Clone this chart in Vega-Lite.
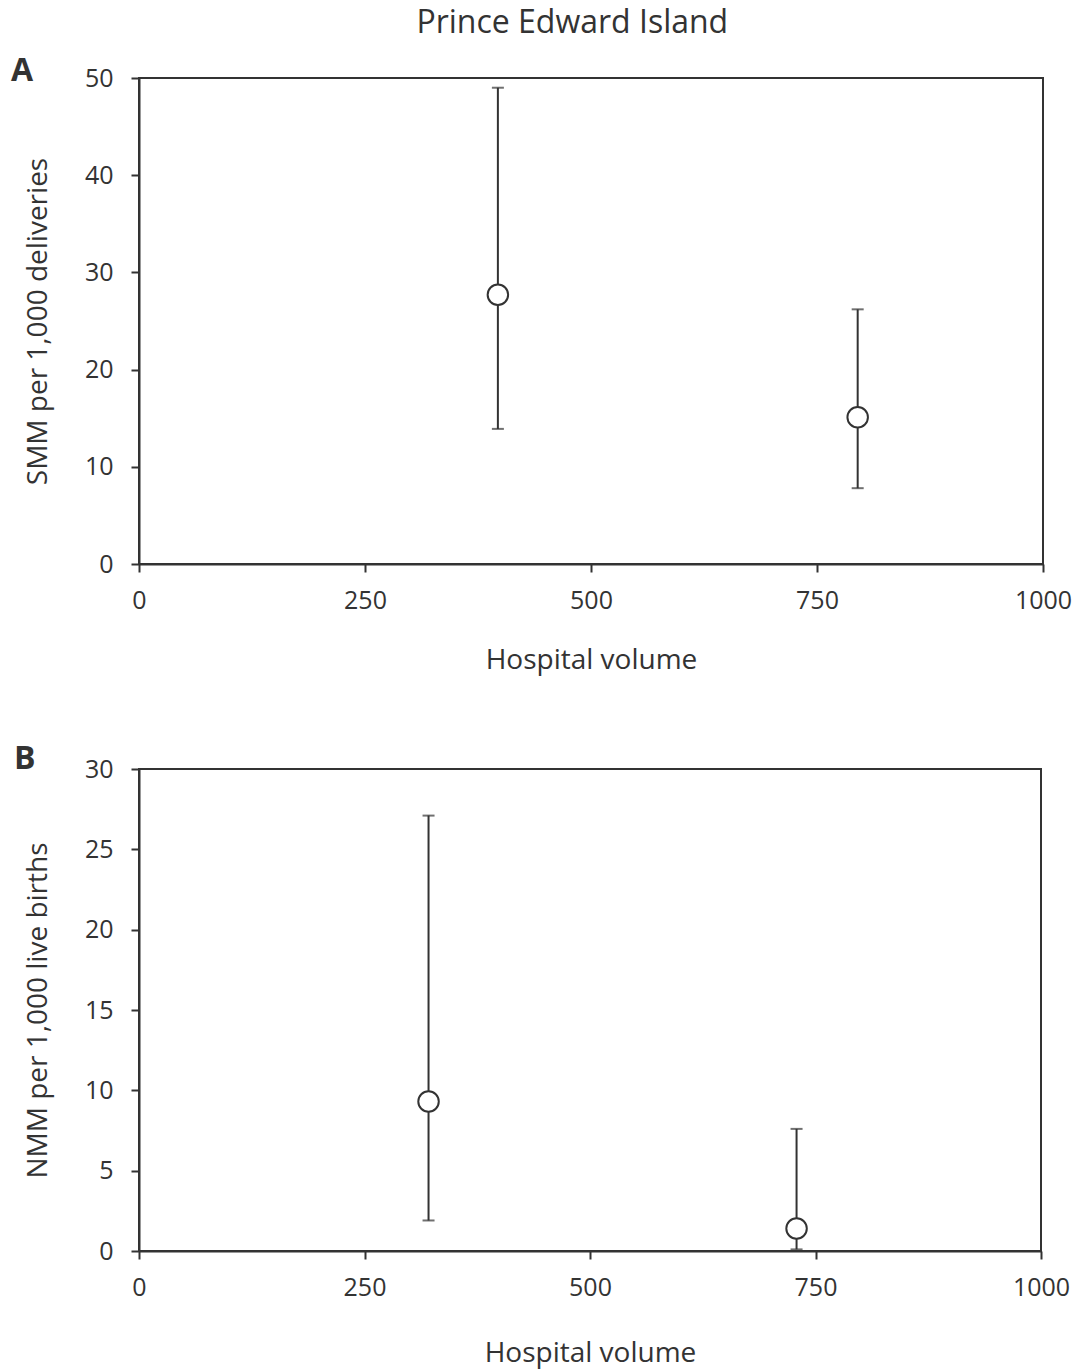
{
  "$schema": "https://vega.github.io/schema/vega-lite/v6.json",
  "padding": {"left": 10, "top": 7, "right": 5, "bottom": 2},
  "background": "white",
  "config": {
    "font": "Open Sans",
    "view": {"stroke": "#333333", "strokeWidth": 2},
    "axis": {
      "domainColor": "#333333", "domainWidth": 2,
      "tickColor": "#333333", "tickWidth": 2, "tickSize": 8,
      "grid": false, "labelFlush": false,
      "labelFontSize": 25, "titleFontSize": 28,
      "labelColor": "#333333", "titleColor": "#333333",
      "titleFontWeight": "normal", "labelFont": "Open Sans", "titleFont": "Open Sans"
    },
    "axisY": {"labelPadding": 18, "titlePadding": 32},
    "axisX": {"labelPadding": 16, "titlePadding": 33, "format": "d"}
  },
  "title": {"text": "Prince Edward Island", "fontSize": 32, "fontWeight": "normal", "color": "#333333", "anchor": "middle", "offset": 14, "dx": 31},
  "datasets": {
    "a": [
      {"volume": 397, "rate": 27.7, "lo": 13.9, "hi": 49.0},
      {"volume": 795, "rate": 15.1, "lo": 7.8, "hi": 26.2}
    ],
    "b": [
      {"volume": 321, "rate": 9.3, "lo": 1.9, "hi": 27.1},
      {"volume": 729, "rate": 1.4, "lo": 0.1, "hi": 7.6}
    ]
  },
  "spacing": 67,
  "vconcat": [
    {
      "width": 904, "height": 486,
      "title": {"text": "A", "anchor": "start", "frame": "group", "dx": -128, "dy": 22, "offset": 0, "fontSize": 32, "fontWeight": "bold", "color": "#333333"},
      "data": {"name": "a"},
      "layer": [
        {"mark": {"type": "rule", "color": "#333333", "strokeWidth": 2},
         "encoding": {
           "x": {"field": "volume", "type": "quantitative", "scale": {"domain": [0, 1000], "nice": false}, "axis": {"values": [0, 250, 500, 750, 1000], "title": "Hospital volume"}},
           "y": {"field": "lo", "type": "quantitative", "scale": {"domain": [0, 50], "nice": false}, "axis": {"values": [0, 10, 20, 30, 40, 50], "title": "SMM per 1,000 deliveries"}},
           "y2": {"field": "hi"}
         }},
        {"mark": {"type": "tick", "orient": "horizontal", "color": "#333333", "size": 12, "thickness": 2},
         "encoding": {"x": {"field": "volume", "type": "quantitative"}, "y": {"field": "lo", "type": "quantitative"}}},
        {"mark": {"type": "tick", "orient": "horizontal", "color": "#333333", "size": 12, "thickness": 2},
         "encoding": {"x": {"field": "volume", "type": "quantitative"}, "y": {"field": "hi", "type": "quantitative"}}},
        {"mark": {"type": "point", "shape": "circle", "filled": true, "fill": "white", "stroke": "#333333", "strokeWidth": 2, "size": 420, "opacity": 1},
         "encoding": {"x": {"field": "volume", "type": "quantitative"}, "y": {"field": "rate", "type": "quantitative"}}}
      ]
    },
    {
      "width": 902, "height": 482,
      "title": {"text": "B", "anchor": "start", "frame": "group", "dx": -125, "dy": 19, "offset": 0, "fontSize": 32, "fontWeight": "bold", "color": "#333333"},
      "data": {"name": "b"},
      "layer": [
        {"mark": {"type": "rule", "color": "#333333", "strokeWidth": 2},
         "encoding": {
           "x": {"field": "volume", "type": "quantitative", "scale": {"domain": [0, 1000], "nice": false}, "axis": {"values": [0, 250, 500, 750, 1000], "title": "Hospital volume", "titlePadding": 39}},
           "y": {"field": "lo", "type": "quantitative", "scale": {"domain": [0, 30], "nice": false}, "axis": {"values": [0, 5, 10, 15, 20, 25, 30], "title": "NMM per 1,000 live births"}},
           "y2": {"field": "hi"}
         }},
        {"mark": {"type": "tick", "orient": "horizontal", "color": "#333333", "size": 12, "thickness": 2},
         "encoding": {"x": {"field": "volume", "type": "quantitative"}, "y": {"field": "lo", "type": "quantitative"}}},
        {"mark": {"type": "tick", "orient": "horizontal", "color": "#333333", "size": 12, "thickness": 2},
         "encoding": {"x": {"field": "volume", "type": "quantitative"}, "y": {"field": "hi", "type": "quantitative"}}},
        {"mark": {"type": "point", "shape": "circle", "filled": true, "fill": "white", "stroke": "#333333", "strokeWidth": 2, "size": 420, "opacity": 1},
         "encoding": {"x": {"field": "volume", "type": "quantitative"}, "y": {"field": "rate", "type": "quantitative"}}}
      ]
    }
  ]
}
